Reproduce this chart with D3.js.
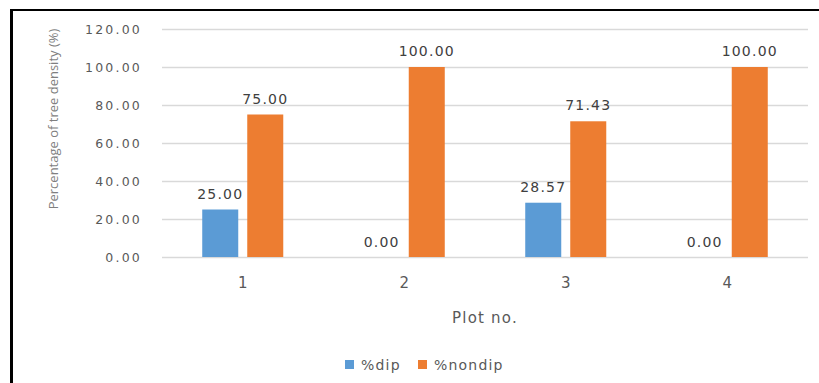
<!DOCTYPE html>
<html>
<head>
<meta charset="utf-8">
<script src="https://cdn.jsdelivr.net/npm/d3@7"></script>
<style>
  html, body { margin: 0; padding: 0; background: #fff; }
  svg { display: block; }
  text { font-family: "DejaVu Sans", sans-serif; }
</style>
</head>
<body>
<svg id="chart" width="819" height="383"></svg>
<script>
// Plot numbers and the share of tree density per group
const plots = ["1", "2", "3", "4"];
const seriesNames = ["%dip", "%nondip"];
const dipValues = [25.00, 0.00, 28.57, 0.00];
const nondipValues = [75.00, 100.00, 71.43, 100.00];
const yTicks = [0, 20, 40, 60, 80, 100, 120];
const colors = ["#5B9BD5", "#ED7D31"];

const svg = d3.select("#chart");

// Frame lines on the left and top edges
svg.append("line").attr("x1", 11.5).attr("x2", 11.5).attr("y1", 9).attr("y2", 383)
  .attr("stroke", "#000").attr("stroke-width", 3);
svg.append("line").attr("x1", 10).attr("x2", 819).attr("y1", 10).attr("y2", 10)
  .attr("stroke", "#000").attr("stroke-width", 2);

const plotLeft = 162, plotRight = 808, plotTop = 29, plotBottom = 257;

const x = d3.scaleBand().domain(plots).range([plotLeft, plotRight]);
const inner = d3.scaleBand().domain(seriesNames).range([0, x.bandwidth()])
  .paddingInner(0.2).paddingOuter(0.894);
const y = d3.scaleLinear().domain([0, 120]).range([plotBottom, plotTop]);

// Horizontal gridlines with value labels
const yAxis = d3.axisLeft(y).tickValues(yTicks).tickFormat(d3.format(".2f"))
  .tickSize(-(plotRight - plotLeft)).tickPadding(20);
const gy = svg.append("g").attr("transform", `translate(${plotLeft},0)`).call(yAxis);
gy.select(".domain").remove();
gy.selectAll(".tick line").attr("stroke", "#D9D9D9").attr("stroke-width", 1.3);
gy.selectAll(".tick text").attr("fill", "#595959").style("font-size", "12.5px")
  .style("letter-spacing", "2.2px").attr("dy", "0.35em");

// Category labels
const xAxis = d3.axisBottom(x).tickSize(0).tickPadding(20);
const gx = svg.append("g").attr("transform", `translate(0,${plotBottom})`).call(xAxis);
gx.select(".domain").remove();
gx.selectAll(".tick text").attr("fill", "#595959").style("font-size", "15px");

// Bars
const rows = plots.map((p, i) => ({ plot: p, vals: [dipValues[i], nondipValues[i]] }));
const groups = svg.append("g").selectAll("g").data(rows).join("g")
  .attr("transform", d => `translate(${x(d.plot)},0)`);

groups.selectAll("rect").data(d => d.vals.map((v, k) => ({ key: seriesNames[k], v, k })))
  .join("rect")
  .attr("x", d => inner(d.key))
  .attr("width", inner.bandwidth())
  .attr("y", d => y(d.v))
  .attr("height", d => y(0) - y(d.v))
  .attr("fill", d => colors[d.k]);

groups.selectAll("text.val").data(d => d.vals.map((v, k) => ({ key: seriesNames[k], v, k })))
  .join("text").attr("class", "val")
  .attr("x", d => inner(d.key) + inner.bandwidth() / 2)
  .attr("y", d => y(d.v) - (d.v === 0 ? 10 : 11))
  .attr("text-anchor", "middle")
  .attr("fill", "#404040")
  .style("font-size", "14px")
  .style("letter-spacing", "1.2px")
  .text(d => d3.format(".2f")(d.v));

// Axis titles
svg.append("text")
  .attr("transform", `translate(58,119) rotate(-90)`)
  .attr("text-anchor", "middle")
  .attr("fill", "#7F7F7F")
  .style("font-size", "13px")
  .style("font-family", "'Open Sans', sans-serif")
  .text("Percentage of tree density (%)");

svg.append("text")
  .attr("x", (plotLeft + plotRight) / 2).attr("y", 323)
  .attr("text-anchor", "middle")
  .attr("fill", "#595959")
  .style("font-size", "15px")
  .style("letter-spacing", "1.2px")
  .text("Plot no.");

// Legend
const legendItems = [
  { name: seriesNames[0], color: colors[0], x: 345 },
  { name: seriesNames[1], color: colors[1], x: 418 }
];
const lg = svg.append("g").selectAll("g").data(legendItems).join("g")
  .attr("transform", d => `translate(${d.x},360)`);
lg.append("rect").attr("width", 9).attr("height", 9).attr("fill", d => d.color);
lg.append("text").attr("x", 16).attr("y", 9.5)
  .attr("fill", "#595959").style("font-size", "14px").style("letter-spacing", "1.2px")
  .text(d => d.name);
</script>
</body>
</html>
